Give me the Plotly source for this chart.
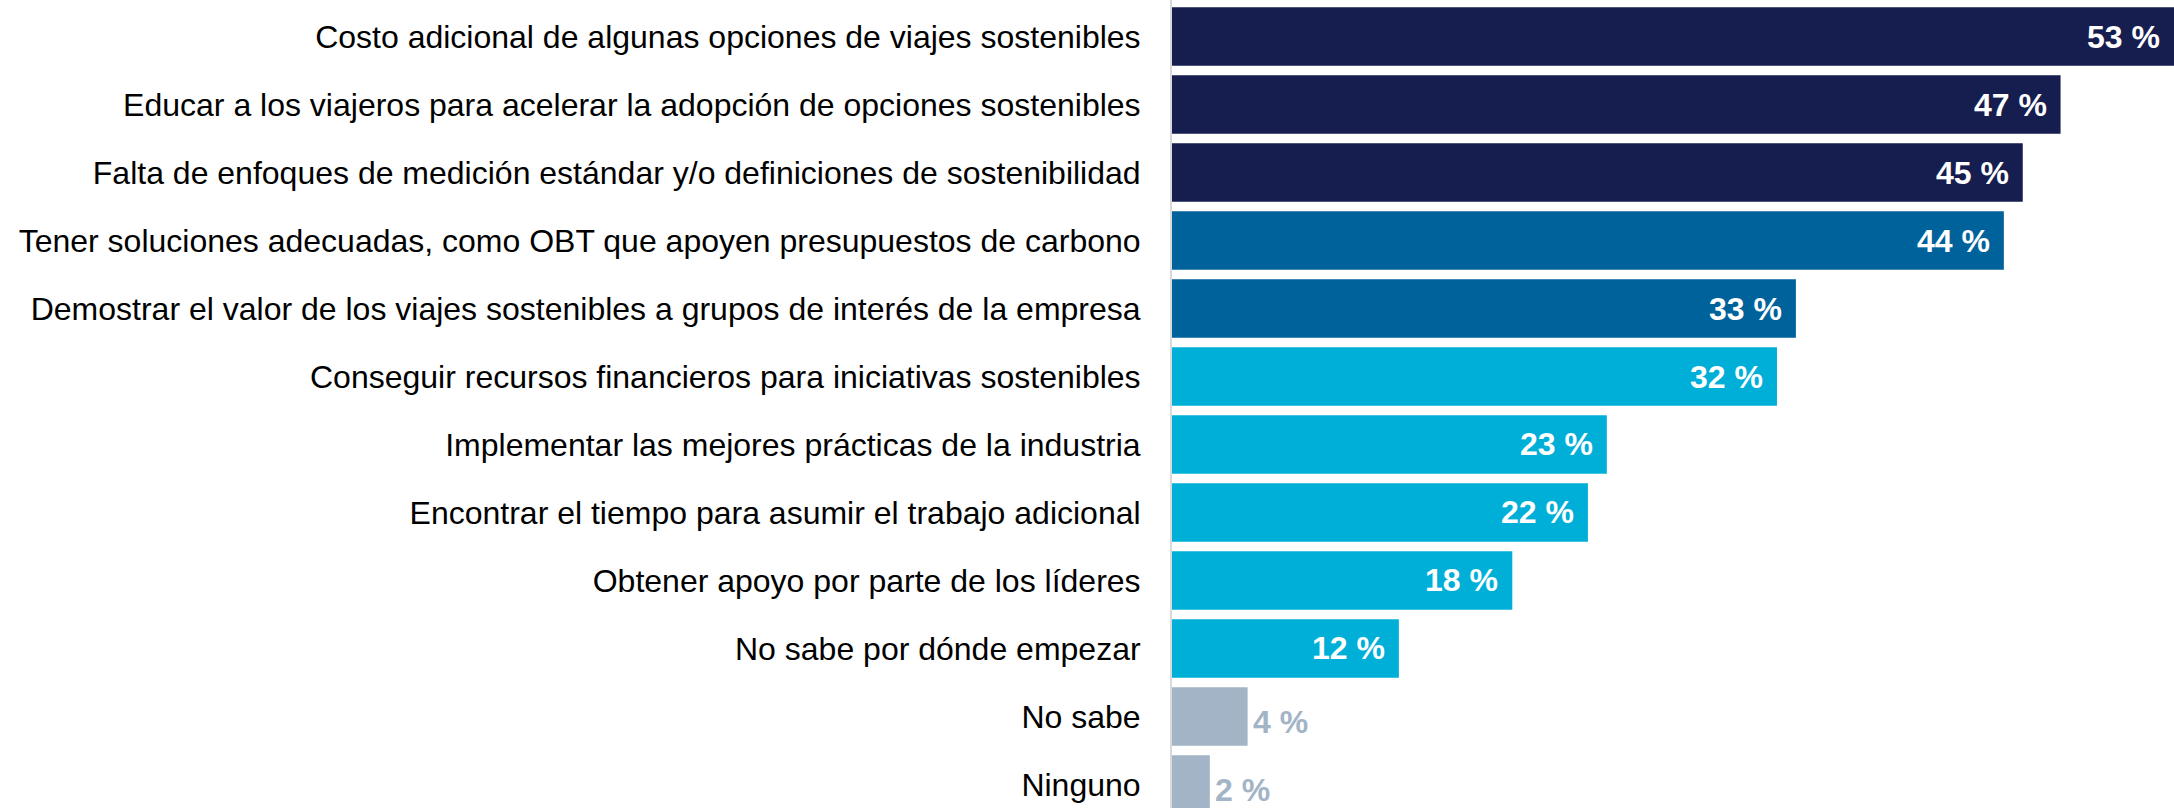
import plotly.graph_objects as go

categories = [
    "Costo adicional de algunas opciones de viajes sostenibles",
    "Educar a los viajeros para acelerar la adopción de opciones sostenibles",
    "Falta de enfoques de medición estándar y/o definiciones de sostenibilidad",
    "Tener soluciones adecuadas, como OBT que apoyen presupuestos de carbono",
    "Demostrar el valor de los viajes sostenibles a grupos de interés de la empresa",
    "Conseguir recursos financieros para iniciativas sostenibles",
    "Implementar las mejores prácticas de la industria",
    "Encontrar el tiempo para asumir el trabajo adicional",
    "Obtener apoyo por parte de los líderes",
    "No sabe por dónde empezar",
    "No sabe",
    "Ninguno",
]
values = [53, 47, 45, 44, 33, 32, 23, 22, 18, 12, 4, 2]
groups = ["top", "top", "top", "mid", "mid", "low", "low", "low", "low", "low", "none", "none"]

palette = {"top": "#161E4F", "mid": "#00629B", "low": "#00AFD8", "none": "#A2B4C6"}
colors = [palette[g] for g in groups]

FONT = "Arial, 'Liberation Sans', sans-serif"

fig = go.Figure(
    go.Bar(
        x=values,
        y=categories,
        orientation="h",
        marker=dict(color=colors, line=dict(width=0)),
        hoverinfo="skip",
    )
)

annotations = []
for cat, v, g in zip(categories, values, groups):
    label = f"{v} %"
    if g == "none":
        annotations.append(dict(
            x=v, y=cat, xref="x", yref="y", text=f"<b>{label}</b>", showarrow=False,
            xanchor="left", xshift=3, yshift=-6,
            font=dict(family=FONT, size=32, color=palette["none"]),
        ))
    else:
        annotations.append(dict(
            x=v, y=cat, xref="x", yref="y", text=f"<b>{label}</b>", showarrow=False,
            xanchor="right", xshift=-12,
            font=dict(family=FONT, size=32, color="white"),
        ))

fig.update_layout(
    width=2174,
    height=808,
    margin=dict(l=1172, r=0, t=0, b=0),
    paper_bgcolor="white",
    plot_bgcolor="white",
    bargap=0.141,
    showlegend=False,
    annotations=annotations,
    font=dict(family=FONT, size=32, color="black"),
)
fig.update_xaxes(range=[0, 53.0], visible=False, showgrid=False, zeroline=False)
fig.update_yaxes(
    type="category",
    categoryorder="array",
    categoryarray=categories,
    range=[11.346, -0.537],
    showgrid=False,
    zeroline=False,
    showline=True,
    linecolor="#D9D9D9",
    linewidth=2,
    ticks="",
    ticklabelstandoff=23,
    tickfont=dict(family=FONT, size=32, color="black"),
)

fig.write_html(
    "out.html",
    config={"displayModeBar": False},
    post_script="document.body.style.margin='0';document.body.style.overflow='hidden';",
)
